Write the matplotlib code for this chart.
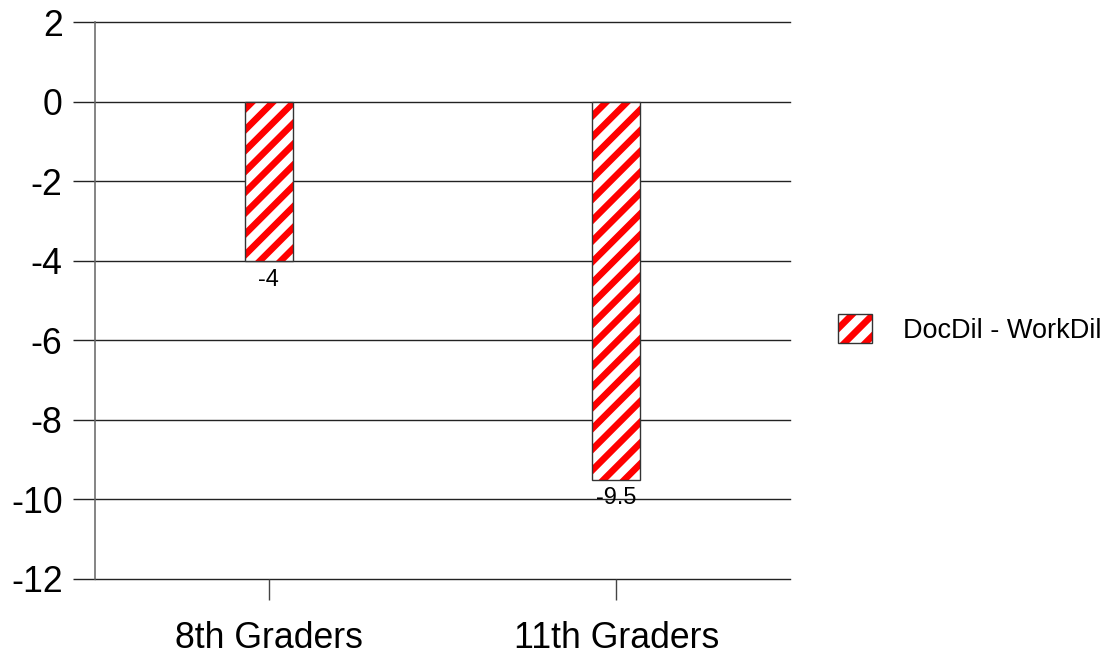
import numpy as np
import matplotlib
matplotlib.use("Agg")
import matplotlib.pyplot as plt
from matplotlib.patches import Patch

plt.rcParams['font.family'] = ['Liberation Sans', 'DejaVu Sans']
plt.rcParams['hatch.linewidth'] = 3.8

categories = ['8th Graders', '11th Graders']
values = [-4, -9.5]
series_name = 'DocDil - WorkDil'
yticks = [2, 0, -2, -4, -6, -8, -10, -12]

DPI = 125
fig = plt.figure(figsize=(1114 / DPI, 655 / DPI), dpi=DPI)
ax = fig.add_axes([95 / 1114, 1 - 579 / 655, (790 - 95) / 1114, (579 - 22) / 655])

x = np.arange(len(categories))
width = 0.138

# hatch layer (red stripes) then outline layer
ax.bar(x, values, width, color='white', edgecolor='red', hatch='//', linewidth=0, zorder=3)
outline = ax.bar(x, values, width, fill=False, edgecolor='#333333', linewidth=0.8, zorder=4)
ax.bar_label(outline, labels=['%g' % v for v in values], padding=4, fontsize=13.5)

ax.set_xlim(-0.5, 1.5)
ax.set_ylim(-12, 2)
ax.set_yticks(yticks)
ax.set_yticklabels([str(t) for t in yticks], fontsize=20.5)
ax.set_xticks(x)
ax.set_xticklabels(categories, fontsize=20.5)

for y in yticks:
    ax.axhline(y, color='#222222', linewidth=0.8, zorder=1, clip_on=False)

for side in ['top', 'right', 'bottom']:
    ax.spines[side].set_visible(False)
ax.spines['left'].set_color('#666666')
ax.spines['left'].set_linewidth(0.9)

ax.tick_params(axis='y', length=12.7, width=0.8, color='#222222', pad=6)
ax.tick_params(axis='x', length=12, width=0.8, color='#444444', pad=12)

h_hatch = Patch(facecolor='white', edgecolor='red', hatch='//', linewidth=0)
h_edge = Patch(fill=False, edgecolor='#333333', linewidth=0.8)
leg = fig.legend([(h_hatch, h_edge)], [series_name], loc='center left',
                 bbox_to_anchor=(814 / 1114, 1 - 329 / 655), frameon=False,
                 fontsize=15.6, handlelength=1.25, handleheight=1.25,
                 handletextpad=1.15)

fig.savefig('out.png', dpi=DPI)
